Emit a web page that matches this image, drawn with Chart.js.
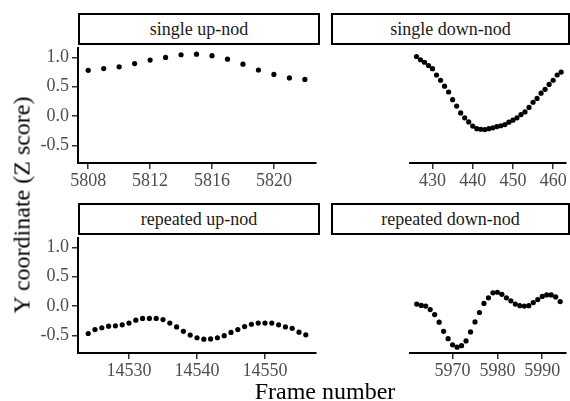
<!DOCTYPE html>
<html>
<head>
<meta charset="utf-8">
<script src="https://cdn.jsdelivr.net/npm/chart.js@4"></script>
<style>
  body { margin: 0; width: 570px; height: 401px; background: #fff; position: relative; overflow: hidden; font-family: "Liberation Serif", serif; }
  canvas { position: absolute; }
  .strip { position: absolute; box-sizing: border-box; border: 2px solid #000; height: 32px; text-align: center; line-height: 28px; font-size: 18px; color: #1a1a1a; background: #fff; }
  .ytitle { position: absolute; left: 22px; top: 205px; transform: translate(-50%, -50%) rotate(-90deg); white-space: nowrap; font-size: 24px; color: #000; }
  .xtitle { position: absolute; left: 325px; top: 378px; transform: translateX(-50%); white-space: nowrap; font-size: 24px; color: #000; }
</style>
</head>
<body>
<div class="strip" style="left:78px;top:13px;width:242px;">single up-nod</div>
<div class="strip" style="left:331px;top:13px;width:239px;">single down-nod</div>
<div class="strip" style="left:78px;top:203px;width:242px;">repeated up-nod</div>
<div class="strip" style="left:331px;top:203px;width:239px;">repeated down-nod</div>
<canvas id="upSingle" width="320" height="150" style="left:0;top:44px;"></canvas>
<canvas id="downSingle" width="238" height="150" style="left:332px;top:44px;"></canvas>
<canvas id="upRepeated" width="320" height="150" style="left:0;top:234px;"></canvas>
<canvas id="downRepeated" width="238" height="150" style="left:332px;top:234px;"></canvas>
<div class="ytitle">Y coordinate (Z score)</div>
<div class="xtitle">Frame number</div>
<script>
// Y coordinate (Z score) per frame
const upSingleFrames = [5808, 5809, 5810, 5811, 5812, 5813, 5814, 5815, 5816, 5817, 5818, 5819, 5820, 5821, 5822];
const upSingleY = [0.78, 0.81, 0.84, 0.895, 0.955, 1.0, 1.045, 1.055, 1.03, 0.97, 0.885, 0.785, 0.71, 0.65, 0.625];

const downSingleFrames = [426, 427, 428, 429, 430, 431, 432, 433, 434, 435, 436, 437, 438, 439, 440, 441, 442, 443, 444,
    445, 446, 447, 448, 449, 450, 451, 452, 453, 454, 455, 456, 457, 458, 459, 460, 461, 462];
const downSingleY = [1.015, 0.96, 0.917, 0.86, 0.807, 0.70, 0.61, 0.51, 0.41, 0.28, 0.17, 0.053, -0.03, -0.10, -0.17,
    -0.215, -0.225, -0.23, -0.215, -0.20, -0.18, -0.165, -0.145, -0.105, -0.07, -0.03, 0.025, 0.07, 0.147, 0.235, 0.30,
    0.39, 0.455, 0.54, 0.61, 0.70, 0.75];

const upRepeatedFrames = [14524, 14525, 14526, 14527, 14528, 14529, 14530, 14531, 14532, 14533, 14534, 14535, 14536,
    14537, 14538, 14539, 14540, 14541, 14542, 14543, 14544, 14545, 14546, 14547, 14548, 14549, 14550, 14551, 14552,
    14553, 14554, 14555, 14556];
const upRepeatedY = [-0.468, -0.40, -0.37, -0.343, -0.337, -0.32, -0.29, -0.24, -0.21, -0.21, -0.21, -0.23, -0.29,
    -0.355, -0.43, -0.495, -0.54, -0.565, -0.56, -0.54, -0.505, -0.45, -0.40, -0.35, -0.31, -0.29, -0.29, -0.29, -0.32,
    -0.355, -0.38, -0.445, -0.49];

const downRepeatedFrames = [5962, 5963, 5964, 5965, 5966, 5967, 5968, 5969, 5970, 5971, 5972, 5973, 5974, 5975, 5976,
    5977, 5978, 5979, 5980, 5981, 5982, 5983, 5984, 5985, 5986, 5987, 5988, 5989, 5990, 5991, 5992, 5993, 5994];
const downRepeatedY = [0.034, 0.01, 0.0, -0.06, -0.145, -0.275, -0.43, -0.555, -0.66, -0.70, -0.675, -0.595, -0.44,
    -0.27, -0.11, 0.045, 0.14, 0.225, 0.235, 0.20, 0.14, 0.09, 0.034, 0.007, 0.0, 0.007, 0.06, 0.11, 0.165, 0.19, 0.19,
    0.155, 0.077];

const yTicks = [-0.5, 0.0, 0.5, 1.0];
const upSingleTicks = [5808, 5812, 5816, 5820];
const downSingleTicks = [430, 440, 450, 460];
const upRepeatedTicks = [14530, 14540, 14550];
const downRepeatedTicks = [5970, 5980, 5990];

const tickFont = { family: 'Liberation Serif', size: 18 };

// keep chart area fixed: no extra padding for overhanging tick labels
function noPad(s) {
    s.paddingTop = 0; s.paddingBottom = 0; s.paddingLeft = 0; s.paddingRight = 0;
}

function makePanel(id, frames, values, xMin, xMax, xTicks, showY) {
    const ctx = document.getElementById(id).getContext('2d');
    return new Chart(ctx, {
        type: 'scatter',
        data: {
            datasets: [{
                data: frames.map((f, i) => ({ x: f, y: values[i] })),
                backgroundColor: '#000', borderWidth: 0, pointRadius: 2.6, clip: false
            }]
        },
        options: {
            responsive: false, animation: false,
            layout: { padding: { top: 0, right: 1, bottom: 0, left: 0 } },
            plugins: { legend: { display: false }, tooltip: { enabled: false } },
            scales: {
                x: {
                    type: 'linear', min: xMin, max: xMax,
                    afterBuildTicks: s => { s.ticks = xTicks.map(v => ({ value: v })); },
                    afterFit: s => { s.height = 31; noPad(s); },
                    grid: { display: true, drawOnChartArea: false, drawTicks: true, tickLength: 6, color: '#333', lineWidth: 1.5 },
                    border: { display: true, color: '#000', width: 2 },
                    ticks: { color: '#4d4d4d', font: tickFont, padding: 1, maxRotation: 0, autoSkip: false, callback: v => String(v) }
                },
                y: {
                    display: showY, min: -0.8, max: 1.16,
                    afterBuildTicks: s => { s.ticks = yTicks.map(v => ({ value: v })); },
                    afterFit: s => { s.width = 78; noPad(s); },
                    grid: { display: true, drawOnChartArea: false, drawTicks: true, tickLength: 6, color: '#333', lineWidth: 1.5 },
                    border: { display: true, color: '#000', width: 2 },
                    ticks: { color: '#4d4d4d', font: tickFont, padding: 3, callback: v => v.toFixed(1) }
                }
            }
        }
    });
}

makePanel('upSingle', upSingleFrames, upSingleY, 5807.34, 5822.72, upSingleTicks, true);
makePanel('downSingle', downSingleFrames, downSingleY, 424.4, 463.2, downSingleTicks, false);
makePanel('upRepeated', upRepeatedFrames, upRepeatedY, 14522.5, 14557.5, upRepeatedTicks, true);
makePanel('downRepeated', downRepeatedFrames, downRepeatedY, 5960.5, 5995.3, downRepeatedTicks, false);
</script>
</body>
</html>
